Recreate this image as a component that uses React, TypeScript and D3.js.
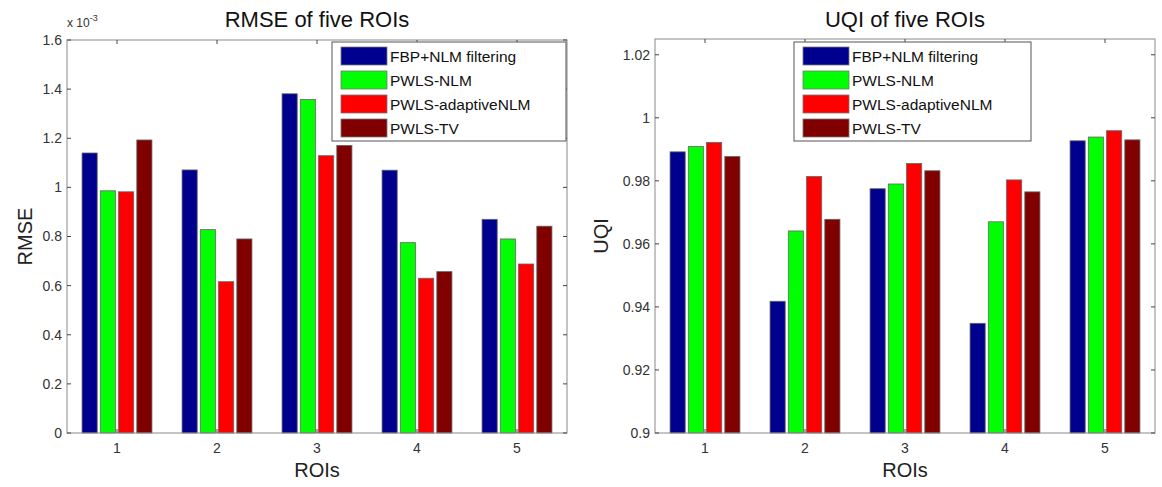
import React from 'react';
import * as d3 from 'd3';

// data
const rois = [1, 2, 3, 4, 5];
const methods = ['FBP+NLM filtering', 'PWLS-NLM', 'PWLS-adaptiveNLM', 'PWLS-TV'];
const colors = ['#00008f', '#00ff00', '#ff0000', '#800000'];

// RMSE values in units of 1e-3, one array per method
const rmseFbp = [1.14, 1.071, 1.381, 1.07, 0.87];
const rmseNlm = [0.986, 0.828, 1.358, 0.775, 0.79];
const rmseAdaptive = [0.982, 0.616, 1.129, 0.63, 0.688];
const rmseTv = [1.193, 0.79, 1.171, 0.657, 0.842];

const uqiFbp = [0.9892, 0.9418, 0.9775, 0.9348, 0.9927];
const uqiNlm = [0.9909, 0.9641, 0.979, 0.967, 0.9939];
const uqiAdaptive = [0.9922, 0.9814, 0.9855, 0.9803, 0.9959];
const uqiTv = [0.9877, 0.9678, 0.9832, 0.9765, 0.993];

const rmseTicks = [0, 0.2, 0.4, 0.6, 0.8, 1, 1.2, 1.4, 1.6];
const uqiTicks = [0.9, 0.92, 0.94, 0.96, 0.98, 1, 1.02];

const font = 'Liberation Sans, Arial, sans-serif';
const axisColor = '#8a8a8a';
const textColor = '#333';

type PanelProps = {
  left: number;
  right: number;
  top: number;
  bottom: number;
  title: string;
  ylabel: string;
  ylabelOffset: number;
  yDomain: [number, number];
  yTicks: number[];
  series: number[][];
  legend: { x0: number; x1: number };
  exponent?: boolean;
};

const Panel = ({ left, right, top, bottom, title, ylabel, ylabelOffset, yDomain, yTicks, series, legend, exponent }: PanelProps) => {
  const x = d3.scaleLinear().domain([0.5, 5.5]).range([left, right]);
  const y = d3.scaleLinear().domain(yDomain).range([bottom, top]);
  const unit = x(1) - x(0);
  const sub = d3.scaleBand<number>()
    .domain(d3.range(methods.length))
    .range([-0.364 * unit, 0.364 * unit])
    .paddingInner(0.17)
    .paddingOuter(0.08);
  const fmt = (v: number) => d3.format('')(+v.toFixed(2));
  const cx = (left + right) / 2;
  const tick = 4;

  return (
    <g>
      <text x={cx} y={27} textAnchor="middle" fontSize={22} fill="#111" fontFamily={font}>{title}</text>
      {exponent && (
        <text x={left} y={27} fontSize={12} fill={textColor} fontFamily={font}>
          x 10<tspan dy={-6} fontSize={9}>-3</tspan>
        </text>
      )}
      {/* bars */}
      {series.map((vals, si) =>
        vals.map((v, i) => (
          <rect
            key={`${si}-${i}`}
            x={x(rois[i]) + sub(si)!}
            y={y(v)}
            width={sub.bandwidth()}
            height={y(yDomain[0]) - y(v)}
            fill={colors[si]}
            stroke="#666"
            strokeWidth={0.8}
          />
        ))
      )}
      {/* axes box */}
      <rect x={left} y={top} width={right - left} height={bottom - top} fill="none" stroke={axisColor} strokeWidth={1} />
      {yTicks.map(t => (
        <g key={t}>
          <line x1={left} x2={left + tick} y1={y(t)} y2={y(t)} stroke="#444" />
          <line x1={right} x2={right - tick} y1={y(t)} y2={y(t)} stroke="#444" />
          <text x={left - 5} y={y(t)} dy="0.35em" textAnchor="end" fontSize={14} fill={textColor} fontFamily={font}>{fmt(t)}</text>
        </g>
      ))}
      {rois.map(r => (
        <g key={r}>
          <line x1={x(r)} x2={x(r)} y1={bottom} y2={bottom - tick} stroke="#444" />
          <line x1={x(r)} x2={x(r)} y1={top} y2={top + tick} stroke="#444" />
          <text x={x(r)} y={bottom + 20} textAnchor="middle" fontSize={14} fill={textColor} fontFamily={font}>{r}</text>
        </g>
      ))}
      <text x={cx} y={477} textAnchor="middle" fontSize={20} fill="#222" fontFamily={font}>ROIs</text>
      <text
        transform={`translate(${left - ylabelOffset},${(top + bottom) / 2}) rotate(-90)`}
        textAnchor="middle"
        fontSize={20}
        fill="#222"
        fontFamily={font}
      >{ylabel}</text>
      {/* legend */}
      <rect x={legend.x0} y={42} width={legend.x1 - legend.x0} height={99} fill="#fff" stroke="#555" strokeWidth={1} />
      {methods.map((m, i) => (
        <g key={m}>
          <rect x={legend.x0 + 9} y={47 + i * 24} width={46} height={18} fill={colors[i]} stroke="#777" strokeWidth={0.8} />
          <text x={legend.x0 + 58} y={62 + i * 24} fontSize={15.5} fill="#111" fontFamily={font}>{m}</text>
        </g>
      ))}
    </g>
  );
};

export default function App() {
  return (
    <svg width={1162} height={487} style={{ display: 'block', position: 'absolute', left: 0, top: 0 }}>
      <rect width={1162} height={487} fill="#fff" />
      <Panel
        left={67}
        right={567}
        top={40}
        bottom={433}
        title="RMSE of five ROIs"
        ylabel="RMSE"
        ylabelOffset={35}
        yDomain={[0, 1.6]}
        yTicks={rmseTicks}
        series={[rmseFbp, rmseNlm, rmseAdaptive, rmseTv]}
        legend={{ x0: 332, x1: 566 }}
        exponent
      />
      <Panel
        left={655}
        right={1155}
        top={39}
        bottom={433}
        title="UQI of five ROIs"
        ylabel="UQI"
        ylabelOffset={47}
        yDomain={[0.9, 1.025]}
        yTicks={uqiTicks}
        series={[uqiFbp, uqiNlm, uqiAdaptive, uqiTv]}
        legend={{ x0: 794, x1: 1031 }}
      />
    </svg>
  );
}
